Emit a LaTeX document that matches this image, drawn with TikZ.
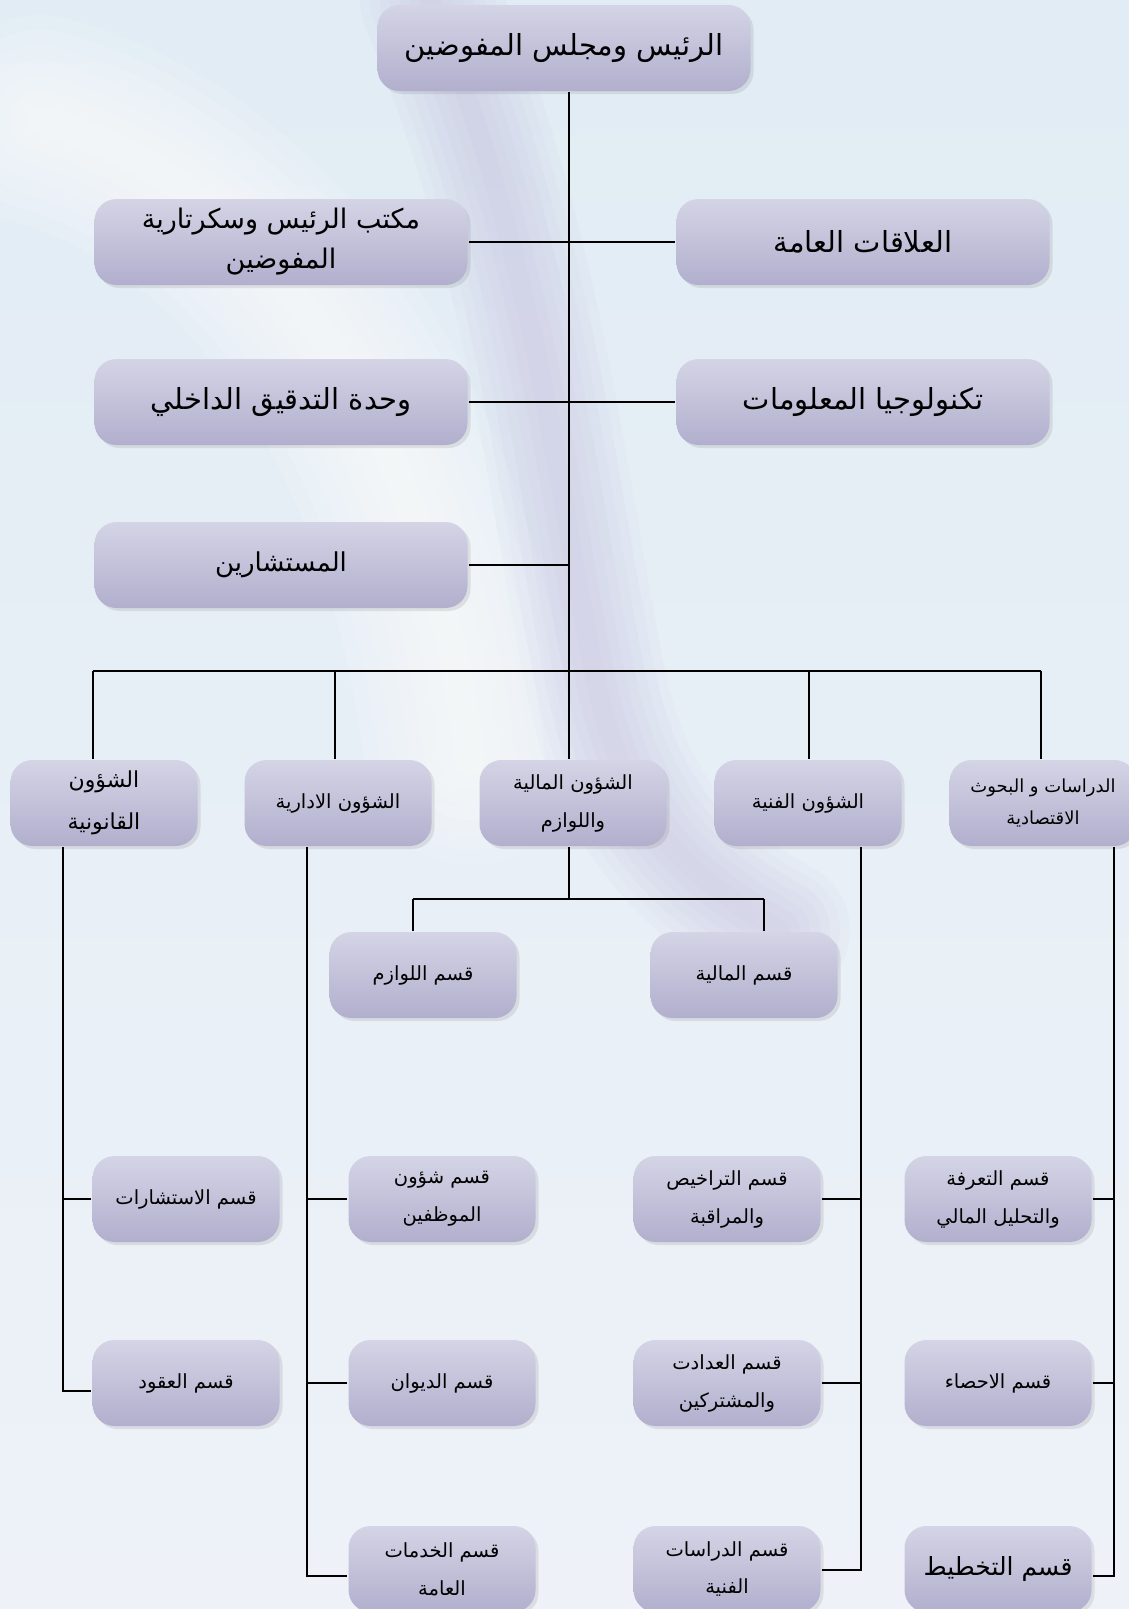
\documentclass[tikz,border=0pt]{standalone}
\usepackage{fontspec}
\usepackage{tikz}
\usetikzlibrary{shadows}

\newfontfamily\arabicfont[Script=Arabic]{DejaVu Sans}
\TeXXeTstate=1
\newcommand{\ar}[1]{{\arabicfont\beginR #1\endR}}

\definecolor{boxtop}{HTML}{D4D4E6}
\definecolor{boxbot}{HTML}{B1AFCD}
\definecolor{bgtop}{HTML}{E1ECF4}
\definecolor{bgbot}{HTML}{EEF2F8}
\definecolor{swirl}{HTML}{B4A6D6}

\begin{document}
\begin{tikzpicture}[x=1pt, y=-1pt, line width=2.2pt,
    box/.style={rounded corners=22pt, top color=boxtop, bottom color=boxbot,
        minimum width=187pt, minimum height=86pt, align=center, inner sep=4pt,
        font=\fontsize{19.5}{38}\selectfont,
        drop shadow={opacity=0.18, shadow xshift=3pt, shadow yshift=-3pt}},
    bigbox/.style={box, minimum width=373pt, font=\fontsize{29}{40}\selectfont}]

    % Background
    \useasboundingbox (0,0) rectangle (1129,1609);
    \shade [top color=bgtop, bottom color=bgbot, draw=none] (0,0) rectangle (1129,1609);
    \foreach \w in {30,60,...,210}
        \draw [white, opacity=0.12, line width=\w pt, line cap=round]
            (40,120) .. controls (260,180) and (430,420) .. (470,760);
    \foreach \w in {20,40,...,140}
        \draw [swirl, opacity=0.05, line width=\w pt, line cap=round]
            (430,0) .. controls (540,260) and (560,520) .. (600,700) .. controls (630,820) and (690,880) .. (780,930);

    % Nodes {top, row 1-3}
    \node [bigbox] (board)    at (564,48)  {\ar{الرئيس ومجلس المفوضين}};
    \node [bigbox, font=\fontsize{27}{40}\selectfont] (office) at (281,242) {\ar{مكتب الرئيس وسكرتارية}\\\ar{المفوضين}};
    \node [bigbox] (pr)       at (863,242) {\ar{العلاقات العامة}};
    \node [bigbox] (audit)    at (281,402) {\ar{وحدة التدقيق الداخلي}};
    \node [bigbox] (it)       at (863,402) {\ar{تكنولوجيا المعلومات}};
    \node [bigbox, font=\fontsize{26}{40}\selectfont] (advisers) at (281,565) {\ar{المستشارين}};

    % Nodes {departments}
    \node [box, font=\fontsize{22}{42}\selectfont] (legal) at (104,803) {\ar{الشؤون}\\\ar{القانونية}};
    \node [box] (admin)    at (338,803)  {\ar{الشؤون الادارية}};
    \node [box] (finance)  at (573,803)  {\ar{الشؤون المالية}\\\ar{واللوازم}};
    \node [box] (tech)     at (808,803)  {\ar{الشؤون الفنية}};
    \node [box, font=\fontsize{18}{32}\selectfont] (studies) at (1043,803) {\ar{الدراسات و البحوث}\\\ar{الاقتصادية}};

    % Nodes {sections}
    \node [box] (supplies)  at (423,975)  {\ar{قسم اللوازم}};
    \node [box] (accounts)  at (744,975)  {\ar{قسم المالية}};
    \node [box] (consult)   at (186,1199) {\ar{قسم الاستشارات}};
    \node [box] (staff)     at (442,1199) {\ar{قسم شؤون}\\\ar{الموظفين}};
    \node [box] (licence)   at (727,1199) {\ar{قسم التراخيص}\\\ar{والمراقبة}};
    \node [box] (tariff)    at (998,1199) {\ar{قسم التعرفة}\\\ar{والتحليل المالي}};
    \node [box] (contracts) at (186,1383) {\ar{قسم العقود}};
    \node [box] (diwan)     at (442,1383) {\ar{قسم الديوان}};
    \node [box] (meters)    at (727,1383) {\ar{قسم العدادت}\\\ar{والمشتركين}};
    \node [box] (stats)     at (998,1383) {\ar{قسم الاحصاء}};
    \node [box] (services)  at (442,1569) {\ar{قسم الخدمات}\\\ar{العامة}};
    \node [box] (techstudy) at (727,1569) {\ar{قسم الدراسات}\\\ar{الفنية}};
    \node [box, font=\fontsize{25}{30}\selectfont] (planning) at (998,1569) {\ar{قسم التخطيط}};

    % Coordinates
    \coordinate (d1) at (93,671);
    \coordinate (d2) at (335,671);
    \coordinate (d3) at (569,671);
    \coordinate (d4) at (809,671);
    \coordinate (d5) at (1041,671);
    \coordinate (fin) at (569,899);
    \coordinate (f1)  at (413,899);
    \coordinate (f2)  at (764,899);
    \coordinate (lg) at (63,1391);
    \coordinate (ad) at (307,1576);
    \coordinate (te) at (861,1570);
    \coordinate (st) at (1114,1576);

    % Paths
    \draw (board.south -| d3) -- (d3);
    \draw (office.east) -- (pr.west);
    \draw (audit.east) -- (it.west);
    \draw (advisers.east) -- (advisers.east -| d3);
    \draw (d1) -- (d5);
    \foreach \d/\n in {d1/legal, d2/admin, d3/finance, d4/tech, d5/studies}
        \draw (\d) -- (\d |- \n.north);
    \draw (finance.south -| fin) -- (fin);
    \draw (f1) -- (f2);
    \draw (f1) -- (f1 |- supplies.north);
    \draw (f2) -- (f2 |- accounts.north);
    \draw (legal.south -| lg) -- (lg) -- (lg -| contracts.west);
    \draw (consult.west) -- (consult.west -| lg);
    \draw (admin.south -| ad) -- (ad) -- (ad -| services.west);
    \draw (staff.west) -- (staff.west -| ad);
    \draw (diwan.west) -- (diwan.west -| ad);
    \draw (tech.south -| te) -- (te) -- (te -| techstudy.east);
    \draw (licence.east) -- (licence.east -| te);
    \draw (meters.east) -- (meters.east -| te);
    \draw (studies.south -| st) -- (st) -- (st -| planning.east);
    \draw (tariff.east) -- (tariff.east -| st);
    \draw (stats.east) -- (stats.east -| st);

\end{tikzpicture}
\end{document}
